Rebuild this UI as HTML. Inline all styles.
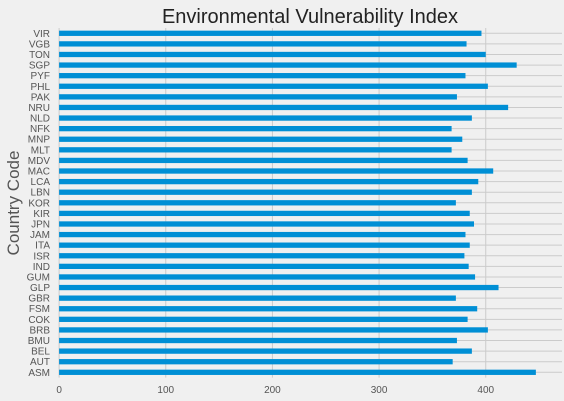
<!DOCTYPE html>
<html><head><meta charset="utf-8"><style>
html,body{margin:0;padding:0;background:#f0f0f0;}
svg{display:block;font-family:"Liberation Sans",sans-serif;}
</style></head><body>
<svg id="chart" width="564" height="401" viewBox="0 0 564 401">
<rect x="0" y="0" width="564" height="401" fill="#f0f0f0"/>
<text x="310" y="23" text-anchor="middle" font-size="20" fill="#222">Environmental Vulnerability Index</text>
<text transform="translate(19,203) rotate(-90)" text-anchor="middle" font-size="17" fill="#555">Country Code</text>
<g id="grid"></g>
<g id="bars"></g>
<g id="ylabels"></g>
<g id="xlabels"></g>
</svg>
<script>
const categories = ["ASM","AUT","BEL","BMU","BRB","COK","FSM","GBR","GLP","GUM","IND","ISR","ITA","JAM","JPN","KIR","KOR","LBN","LCA","MAC","MDV","MLT","MNP","NFK","NLD","NRU","PAK","PHL","PYF","SGP","TON","VGB","VIR"];
const values = [447,369,387,373,402,383,392,372,412,390,384,380,385,381,389,385,372,387,393,407,383,368,378,368,387,421,373,402,381,429,400,382,396];
const xTicks = [0,100,200,300,400];

const NS = "http://www.w3.org/2000/svg";
const L = 59.1, R = 562, xMax = 471.5, T = 28, B = 377.6;
function xs(v){ return L + v/xMax*(R-L); }
const band = (B-T)/categories.length;
function yc(i){ return B - (i+0.5)*band; }
function mk(tag, attrs, parent){ const e=document.createElementNS(NS,tag); for(const k in attrs) e.setAttribute(k,attrs[k]); parent.appendChild(e); return e; }
const grid=document.getElementById('grid'), bars=document.getElementById('bars'), yl=document.getElementById('ylabels'), xl=document.getElementById('xlabels');
xTicks.forEach(t=>{
  const g=mk('line',{x1:xs(t),x2:xs(t),y1:T,y2:B,stroke:'#cbcbcb','stroke-width':1},grid);
  
  
  const tx=mk('text',{x:xs(t),y:393,'text-anchor':'middle','font-size':10,fill:'#555'},xl);
  tx.textContent=t;
  
  
});
categories.forEach((c,i)=>{
  const g=mk('line',{x1:L,x2:R,y1:yc(i),y2:yc(i),stroke:'#cbcbcb','stroke-width':1},grid);
  
  
  const h=band*0.5;
  const b=mk('rect',{x:xs(0),y:yc(i)-h/2,width:xs(values[i])-xs(0),height:h,fill:'#008fd5'},bars);
  
  
  const tx=mk('text',{x:50,y:yc(i)+3.5,'text-anchor':'end','font-size':10,fill:'#555'},yl);
  tx.textContent=c;
  
  
});
</script>
</body></html>
